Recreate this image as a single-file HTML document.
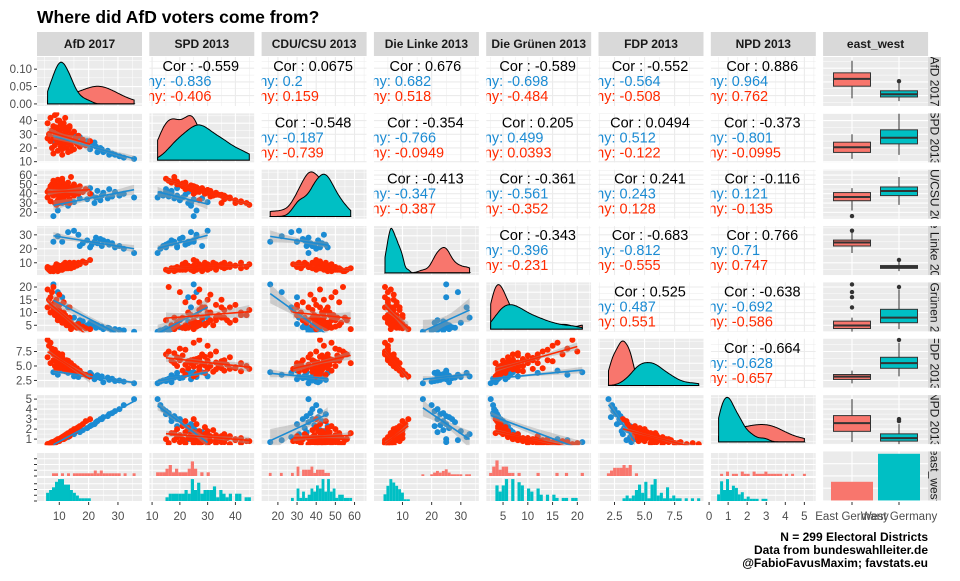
<!DOCTYPE html>
<html><head><meta charset="utf-8"><style>
body{margin:0;background:#fff;width:960px;height:576px;overflow:hidden}
svg text{font-family:"Liberation Sans",Arial,sans-serif}
</style></head><body>
<svg id="chart" xmlns="http://www.w3.org/2000/svg" width="960" height="576" viewBox="0 0 960 576">
<text x="37" y="23" font-size="17.5" font-weight="bold" fill="#000">Where did AfD voters come from?</text>
<g font-size="12" font-weight="bold" fill="#000" text-anchor="end">
<text x="928" y="541">N = 299 Electoral Districts</text>
<text x="928" y="554">Data from bundeswahlleiter.de</text>
<text x="928" y="567">@FabioFavusMaxim; favstats.eu</text>
</g>
</svg>
<script>
// ---- data (West districts sample) ----
const afdW=[6.0,6.5,7.0,7.0,7.5,7.5,8.0,8.0,8.5,8.5,9.0,9.0,9.0,9.5,9.5,9.5,10.0,10.0,10.0,10.5,10.5,10.5,11.0,11.0,11.0,11.5,11.5,11.5,12.0,12.0,12.0,12.5,12.5,13.0,13.0,13.0,13.5,13.5,14.0,14.0,14.5,15.0,15.0,15.5,16.0,16.5,17.0,18.0,19.0,20.5,8.0,9.0,10.0,11.0,12.0,6.0,10.0,11.5,13.5,14.0];
const spdW=[38,30,42,25,33,20,36,28,44,22,31,26,35,18,29,40,24,33,27,37,21,30,25,34,19,28,38,23,31,26,35,20,29,24,33,17,27,36,22,30,25,32,19,27,23,29,21,26,22,25,16,45,40,15,42,27,31,27,35,18];
const cduW=[36,44,32,48,40,50,38,46,30,52,43,47,39,55,42,33,49,41,45,36,51,44,48,39,53,44,35,47,42,46,38,50,43,45,39,52,44,34,47,41,46,38,50,43,46,40,48,42,45,40,54,28,30,56,31,42,37,33,30,58];
const linkeW=[7,5,6,4,5,5,6,4,7,5,6,5,7,4,6,8,5,6,7,7,5,6,6,8,5,7,9,6,7,6,8,6,8,7,9,6,8,10,7,9,8,10,7,9,8,10,9,11,10,12,4,9,8,5,10,6,7,8,9,6];
const gruW=[12,15,10,16,13,18,11,12,9,14,10,9,15,8,12,7,9,8,11,7,8,10,7,9,6,8,6,10,7,6,8,7,5,6,7,5,6,8,5,6,4.5,5,4.5,5,4,5.5,4,4.5,3.8,3.5,20,11,13,7,9,19,17,14,12,3.5];
const fdpW=[6.5,8.5,5.5,9.0,7.5,8.0,6.0,7.0,5.0,7.8,6.8,6.2,5.8,7.2,6.6,4.8,6.0,5.6,6.4,5.2,6.8,5.9,6.1,5.0,6.5,5.4,4.5,5.8,5.0,5.7,4.6,6.0,5.1,5.5,4.4,5.9,4.8,4.2,5.2,4.5,4.9,4.0,5.0,4.3,4.6,3.8,4.2,3.6,3.5,3.2,7.5,4.5,4.6,7.0,4.1,9.5,7.0,6.0,5.5,5.5];
const npdW=[0.5,0.5,0.6,0.6,0.6,0.7,0.7,0.7,0.8,0.6,0.8,0.9,0.7,0.9,0.8,1.0,1.0,0.9,1.0,1.1,1.0,1.1,1.2,1.1,1.2,1.2,1.3,1.1,1.3,1.4,1.2,1.4,1.5,1.5,1.4,1.6,1.6,1.5,1.7,1.8,1.7,1.9,2.0,1.8,2.1,2.2,2.3,2.5,2.8,3.0,0.6,0.8,0.9,1.0,1.1,0.5,0.8,1.0,1.3,1.6];
// ---- data (East districts sample) ----
const afdE=[35.5,32,30.5,29,28,27,26.5,25,24.5,24,23,22.5,22,21,20.5,19.5,18,17,16.5,15,13,11,9.5,8];
const spdE=[12,13,14,15,16,15,18,17,19,20,17,21,24,22,19,25,23,28,26,30,24,23,26,25];
const cduE=[36,40,38,42,37,45,35,41,38,33,43,36,30,39,46,34,42,35,44,31,27,30,22,16];
const linkeE=[17,20,22,21,24,23,25,26,22,27,24,28,25,23,21,26,24,22,30,33,32,25,29,25];
const gruE=[2.5,3,3.2,3.5,3,3.8,4,3.5,4.5,4.2,5,4,5.5,4.8,6,5,6.5,7,6,8,12,16,18,21];
const fdpE=[2.0,2.3,2.5,2.4,2.8,2.6,3.0,2.2,3.2,2.9,3.4,3.0,2.7,3.5,3.8,3.3,3.6,3.9,3.1,3.2,3.8,4.2,3.5,3.9];
const npdE=[5.0,4.4,4.0,3.8,3.6,3.5,3.3,3.2,3.0,3.0,2.8,2.7,2.5,2.4,2.3,2.1,1.9,1.7,1.8,1.5,1.2,1.0,0.9,0.7];
// ---- printed correlations (upper triangle, row-major) ----
const corAll=["-0.559","0.0675","0.676","-0.589","-0.552","0.886","-0.548","-0.354","0.205","0.0494","-0.373","-0.413","-0.361","0.241","-0.116","-0.343","-0.683","0.766","0.525","-0.638","-0.664"];
const corEast=["-0.836","0.2","0.682","-0.698","-0.564","0.964","-0.187","-0.766","0.499","0.512","-0.801","-0.347","-0.561","0.243","0.121","-0.396","-0.812","0.71","0.487","-0.692","-0.628"];
const corWest=["-0.406","0.159","0.518","-0.484","-0.508","0.762","-0.739","-0.0949","0.0393","-0.122","-0.0995","-0.387","-0.352","0.128","-0.135","-0.231","-0.555","0.747","0.551","-0.586","-0.657"];
const varLabels=["AfD 2017","SPD 2013","CDU/CSU 2013","Die Linke 2013","Die Grünen 2013","FDP 2013","NPD 2013"];
const groupLabels=["East Germany","West Germany"];
const xTickLabels=[[10,20,30],[10,20,30,40],[20,30,40,50,60],[10,20,30],[5,10,15,20],[2.5,5.0,7.5],[0,1,2,3,4,5]];
const yTickLabels=[[10,20,30],[10,20,30,40],[20,30,40,50,60],[10,20,30],[5,10,15,20],[2.5,5.0,7.5],[1,2,3,4,5]];
const densTicks=[0.00,0.05,0.10];

const east=[afdE,spdE,cduE,linkeE,gruE,fdpE,npdE];
const west=[afdW,spdW,cduW,linkeW,gruW,fdpW,npdW];
const xDom=[[2.4,38.2],[9,46.8],[11.5,66.3],[0.2,36.2],[1.6,22.8],[1.17,9.9],[0.09,5.6]];
const yDom=[[2.4,38.2],[9.5,45.3],[13.2,65.8],[1.2,36.3],[2.6,21.8],[1.24,9.7],[0.5,5.4]];
const NS="http://www.w3.org/2000/svg";
const svg=document.getElementById('chart');
const PW=105,PH=49;
const colX=j=>37+112.3*j, rowY=i=>57+56.35*i;
const C={salmon:"#F8766D",teal:"#00BFC4",red:"#FF2A00",blue:"#1B8BD3"};
function mk(parent,tag,name,attrs){
  const el=document.createElementNS(NS,tag);
  
  
  for(const k in attrs) el.setAttribute(k,attrs[k]);
  parent.appendChild(el);return el;
}
const defs=mk(svg,'defs','defs',{});
const sx=(j,v)=>colX(j)+(v-xDom[j][0])/(xDom[j][1]-xDom[j][0])*PW;
const sy=(i,v)=>rowY(i)+PH-(v-yDom[i][0])/(yDom[i][1]-yDom[i][0])*PH;
const mean=a=>a.reduce((s,v)=>s+v,0)/a.length;
function quant(a,p){const s=[...a].sort((x,y)=>x-y);const h=(s.length-1)*p,l=Math.floor(h);return s[l]+(h-l)*((s[Math.min(l+1,s.length-1)])-s[l]);}
function sd(a){const m=mean(a);return Math.sqrt(a.reduce((s,v)=>s+(v-m)*(v-m),0)/(a.length-1));}
function kde(a,x){const bw=0.9*Math.min(sd(a),(quant(a,.75)-quant(a,.25))/1.34)*Math.pow(a.length,-0.2);let s=0;for(const v of a){const z=(x-v)/bw;s+=Math.exp(-0.5*z*z);}return s/(a.length*bw*Math.sqrt(2*Math.PI));}
function clipFor(id,x,y,w,h){const cp=mk(defs,'clipPath','clip-'+id,{id:id});mk(cp,'rect','clip-rect',{x:x,y:y,width:w,height:h});return 'url(#'+id+')';}
function gridV(g,xs,minor,y0,y1,col){
  xs.forEach(x=>{mk(g,'line','grid-major-v',{x1:x,x2:x,y1:y0,y2:y1,stroke:col,'stroke-width':1.1});});
  minor.forEach(x=>{mk(g,'line','grid-minor-v',{x1:x,x2:x,y1:y0,y2:y1,stroke:col,'stroke-width':0.5});});
}
function gridH(g,ys,minor,x0,x1,col){
  ys.forEach(y=>{mk(g,'line','grid-major-h',{x1:x0,x2:x1,y1:y,y2:y,stroke:col,'stroke-width':1.1});});
  minor.forEach(y=>{mk(g,'line','grid-minor-h',{x1:x0,x2:x1,y1:y,y2:y,stroke:col,'stroke-width':0.5});});
}
function mids(a){const r=[];for(let k=0;k<a.length-1;k++)r.push((a[k]+a[k+1])/2);if(a.length>1){const d=a[1]-a[0];r.unshift(a[0]-d/2);r.push(a[a.length-1]+d/2);}return r;}
function xGrid(g,j,y0,y1,col){gridV(g,xTickLabels[j].map(v=>sx(j,v)),mids(xTickLabels[j]).map(v=>sx(j,v)),y0,y1,col);}
function yGrid(g,i,x0,x1,col){gridH(g,yTickLabels[i].map(v=>sy(i,v)),mids(yTickLabels[i]).map(v=>sy(i,v)),x0,x1,col);}

// strips
for(let j=0;j<8;j++){
  const lab=j<7?varLabels[j]:'east_west';
  mk(svg,'rect','column-strip',{x:colX(j),y:32,width:PW,height:24,fill:'#D9D9D9'});
  const t=mk(svg,'text','column-strip-label',{x:colX(j)+PW/2,y:48,'text-anchor':'middle','font-size':12,'font-weight':'bold',fill:'#1A1A1A'});t.textContent=lab;
}
for(let i=0;i<8;i++){
  const lab=i<7?varLabels[i]:'east_west';
  mk(svg,'rect','row-strip',{x:928,y:rowY(i),width:13,height:PH,fill:'#D9D9D9'});
  const cg=mk(svg,'g','row-strip-label-group',{'clip-path':clipFor('rs'+i,928,rowY(i),13,PH)});
  const cy=rowY(i)+PH/2;
  const t=mk(cg,'text','row-strip-label',{x:934.5,y:cy,'text-anchor':'middle','dominant-baseline':'central','font-size':12,fill:'#1A1A1A',transform:`rotate(90 934.5 ${cy})`});t.textContent=lab;
}

let k=0;
for(let i=0;i<8;i++)for(let j=0;j<8;j++){
  const x0=colX(j),y0=rowY(i);
  const g=mk(svg,'g','panel-'+i+'-'+j,{'clip-path':clipFor('p'+i+'_'+j,x0,y0-1,PW,PH+2)});
  if(i<7&&j<7&&i<j){
    mk(g,'rect','cor-panel-bg',{x:x0,y:y0,width:PW,height:PH,fill:'#fff'});
    xGrid(g,j,y0,y0+PH,'#EBEBEB');yGrid(g,i,x0,x0+PW,'#EBEBEB');
    const cx=x0+PW/2-1;
    const t1=mk(g,'text','cor-overall',{x:cx,y:y0+14,'text-anchor':'middle','font-size':14.5,fill:'#000'});t1.textContent='Cor : '+corAll[k];
    const l2=mk(g,'text','cor-east-label',{x:x0+17,y:y0+29,'text-anchor':'end','font-size':14.5,fill:C.blue});l2.textContent=groupLabels[0]+':';
    const t2=mk(g,'text','cor-east',{x:x0+21,y:y0+29,'text-anchor':'start','font-size':14.5,fill:C.blue});t2.textContent=corEast[k];
    const l3=mk(g,'text','cor-west-label',{x:x0+17,y:y0+44,'text-anchor':'end','font-size':14.5,fill:C.red});l3.textContent=groupLabels[1]+':';
    const t3=mk(g,'text','cor-west',{x:x0+21,y:y0+44,'text-anchor':'start','font-size':14.5,fill:C.red});t3.textContent=corWest[k];
    k++;
  } else if(i<7&&j<7&&i===j){
    mk(g,'rect','density-panel-bg',{x:x0,y:y0,width:PW,height:PH,fill:'#EBEBEB'});
    xGrid(g,j,y0,y0+PH,'#fff');
    const all=east[j].concat(west[j]);const lo=Math.min(...all),hi=Math.max(...all);
    const N=90,xs=[];for(let n=0;n<=N;n++)xs.push(lo+(hi-lo)*n/N);
    const dE=xs.map(x=>kde(east[j],x)),dW=xs.map(x=>kde(west[j],x));
    let dom;
    if(j===0){dom=[-0.006,0.135];gridH(g,densTicks.map(v=>y0+PH-(v-dom[0])/(dom[1]-dom[0])*PH),[0.025,0.075,0.125].map(v=>y0+PH-(v-dom[0])/(dom[1]-dom[0])*PH),x0,x0+PW,'#fff');}
    else{const m=Math.max(...dE,...dW);dom=[-m*0.05,m*1.05];gridH(g,[0.2,0.5,0.8].map(f=>y0+PH*f),[0.05,0.35,0.65,0.95].map(f=>y0+PH*f),x0,x0+PW,'#fff');}
    const dy=v=>y0+PH-(v-dom[0])/(dom[1]-dom[0])*PH;
    [[dE,C.salmon,'density-east'],[dW,C.teal,'density-west']].forEach(([d,col,nm])=>{
      let p=`M${sx(j,xs[0])},${dy(0)}`;xs.forEach((x,n)=>{p+=`L${sx(j,x).toFixed(1)},${dy(d[n]).toFixed(1)}`;});p+=`L${sx(j,xs[N])},${dy(0)}Z`;
      mk(g,'path',nm,{d:p,fill:col,stroke:'#000','stroke-width':1});
    });
  } else if(i<7&&j<7){
    mk(g,'rect','scatter-panel-bg',{x:x0,y:y0,width:PW,height:PH,fill:'#EBEBEB'});
    xGrid(g,j,y0,y0+PH,'#fff');yGrid(g,i,x0,x0+PW,'#fff');
    [[east,C.blue,'point-east'],[west,C.red,'point-west']].forEach(([d,col,nm])=>{
      d[j].forEach((v,n)=>{mk(g,'circle',nm,{cx:sx(j,v).toFixed(1),cy:sy(i,d[i][n]).toFixed(1),r:3,fill:col});});
    });
    [[east,C.blue,'fit-east'],[west,C.red,'fit-west']].forEach(([d,col,nm])=>{
      const X=d[j],Y=d[i],n=X.length,mx=mean(X),my=mean(Y);
      let sxx=0,sxy=0;X.forEach((x,q)=>{sxx+=(x-mx)**2;sxy+=(x-mx)*(Y[q]-my);});
      const b=sxy/sxx,a=my-b*mx;let sse=0;X.forEach((x,q)=>{sse+=(Y[q]-a-b*x)**2;});const s=Math.sqrt(sse/(n-2));
      const lo=Math.min(...X),hi=Math.max(...X),pts=[];for(let q=0;q<=20;q++)pts.push(lo+(hi-lo)*q/20);
      const se=x=>2*s*Math.sqrt(1/n+(x-mx)**2/sxx);
      let p='';pts.forEach((x,q)=>{p+=(q?'L':'M')+sx(j,x).toFixed(1)+','+sy(i,a+b*x+se(x)).toFixed(1);});
      [...pts].reverse().forEach(x=>{p+='L'+sx(j,x).toFixed(1)+','+sy(i,a+b*x-se(x)).toFixed(1);});
      mk(g,'path',nm+'-ribbon',{d:p+'Z',fill:'#999',opacity:0.4});
      mk(g,'line',nm+'-line',{x1:sx(j,lo),y1:sy(i,a+b*lo),x2:sx(j,hi),y2:sy(i,a+b*hi),stroke:col,'stroke-width':1.6});
    });
  } else if(j===7&&i<7){
    mk(g,'rect','box-panel-bg',{x:x0,y:y0,width:PW,height:PH,fill:'#EBEBEB'});
    const by=v=>y0+PH-(v-(i===0?xDom[0][0]:yDom[i][0]))/((i===0?xDom[0][1]-xDom[0][0]:yDom[i][1]-yDom[i][0]))*PH;
    const tk=i===0?xTickLabels[0]:yTickLabels[i];
    gridH(g,tk.map(by),mids(tk).map(by),x0,x0+PW,'#fff');
    gridV(g,[852,899],[],y0,y0+PH,'#fff');
    [[east[i],852,C.salmon,'box-east'],[west[i],899,C.teal,'box-west']].forEach(([a,cx,col,nm])=>{
      const q1=quant(a,.25),q2=quant(a,.5),q3=quant(a,.75),iq=q3-q1;
      const inr=a.filter(v=>v>=q1-1.5*iq&&v<=q3+1.5*iq);const wl=Math.min(...inr),wh=Math.max(...inr);
      mk(g,'line',nm+'-whisker',{x1:cx,x2:cx,y1:by(wl),y2:by(wh),stroke:'#333','stroke-width':1});
      mk(g,'rect',nm,{x:cx-18.5,y:by(q3),width:37,height:Math.max(1,by(q1)-by(q3)),fill:col,stroke:'#333','stroke-width':1});
      mk(g,'line',nm+'-median',{x1:cx-18.5,x2:cx+18.5,y1:by(q2),y2:by(q2),stroke:'#333','stroke-width':2});
      a.filter(v=>v<q1-1.5*iq||v>q3+1.5*iq).forEach(v=>{mk(g,'circle',nm+'-outlier',{cx:cx,cy:by(v),r:2.2,fill:'#333'});});
    });
  } else if(i===7&&j<7){
    const all=east[j].concat(west[j]);const lo=Math.min(...all),hi=Math.max(...all),nb=30,bwid=(hi-lo)/(nb-1);
    const cnt=a=>{const c=new Array(nb).fill(0);a.forEach(v=>{c[Math.min(nb-1,Math.round((v-lo)/bwid))]++;});return c;};
    const cE=cnt(east[j]),cW=cnt(west[j]);const m=Math.max(...cE,...cW)*1.05;
    [[cE,453,23,C.salmon,'hist-east'],[cW,478,23,C.teal,'hist-west']].forEach(([c,top,h,col,nm])=>{
      mk(g,'rect',nm+'-bg',{x:x0,y:top,width:PW,height:h,fill:'#EBEBEB'});
      xGrid(g,j,top,top+h,'#fff');
      gridH(g,[0.25,0.5,0.75].map(f=>top+h*f),[],x0,x0+PW,'#fff');
      c.forEach((v,b)=>{if(!v)return;const bx=sx(j,lo+(b-0.5)*bwid),bw2=sx(j,lo+(b+0.5)*bwid)-bx;
        mk(g,'rect',nm+'-bar',{x:bx.toFixed(1),y:(top+h-v/m*h).toFixed(1),width:bw2.toFixed(1),height:(v/m*h).toFixed(1),fill:col});});
    });
  } else {
    mk(g,'rect','bar-panel-bg',{x:x0,y:y0,width:PW,height:PH,fill:'#EBEBEB'});
    const counts=[east[0].length,west[0].length];const m=Math.max(...counts)*1.05;
    gridH(g,[0.25,0.5,0.75].map(f=>y0+PH*f),[],x0,x0+PW,'#fff');
    gridV(g,[852,899],[],y0,y0+PH,'#fff');
    [[counts[0],852,C.salmon,'bar-east'],[counts[1],899,C.teal,'bar-west']].forEach(([v,cx,col,nm])=>{
      mk(g,'rect',nm,{x:cx-21,y:y0+PH-v/m*PH,width:42,height:v/m*PH,fill:col});
    });
  }
}
// axes labels
const lab=(x,y,s,anchor,nm,fs)=>{const t=mk(svg,'text',nm,{x:x,y:y,'text-anchor':anchor,'font-size':fs||11.5,fill:'#4D4D4D'});t.textContent=s;return t;};
for(let j=0;j<7;j++){xTickLabels[j].forEach(v=>{const x=sx(j,v);mk(svg,'line','x-tick',{x1:x,x2:x,y1:502,y2:505,stroke:'#333'});lab(x,520,String(v.toFixed(j===5?1:0)),'middle','x-tick-label');});}
[[852,groupLabels[0]],[899,groupLabels[1]]].forEach(([x,s])=>{mk(svg,'line','x-tick',{x1:x,x2:x,y1:502,y2:505,stroke:'#333'});lab(x,520,s,'middle','x-tick-label');});
const d0=[-0.006,0.135];
densTicks.forEach(v=>{const y=rowY(0)+PH-(v-d0[0])/(d0[1]-d0[0])*PH;mk(svg,'line','y-tick',{x1:34,x2:37,y1:y,y2:y,stroke:'#333'});lab(32,y+4,v.toFixed(2),'end','y-tick-label');});
for(let i=1;i<7;i++){yTickLabels[i].forEach(v=>{const y=sy(i,v);mk(svg,'line','y-tick',{x1:34,x2:37,y1:y,y2:y,stroke:'#333'});lab(32,y+4,i===5?v.toFixed(1):String(v),'end','y-tick-label');});}
[453,478].forEach(top=>{[0.25,0.5,0.75,1].forEach(f=>{const y=top+23*f;mk(svg,'line','y-tick',{x1:34,x2:37,y1:y,y2:y,stroke:'#333'});});});
</script>
</body></html>
